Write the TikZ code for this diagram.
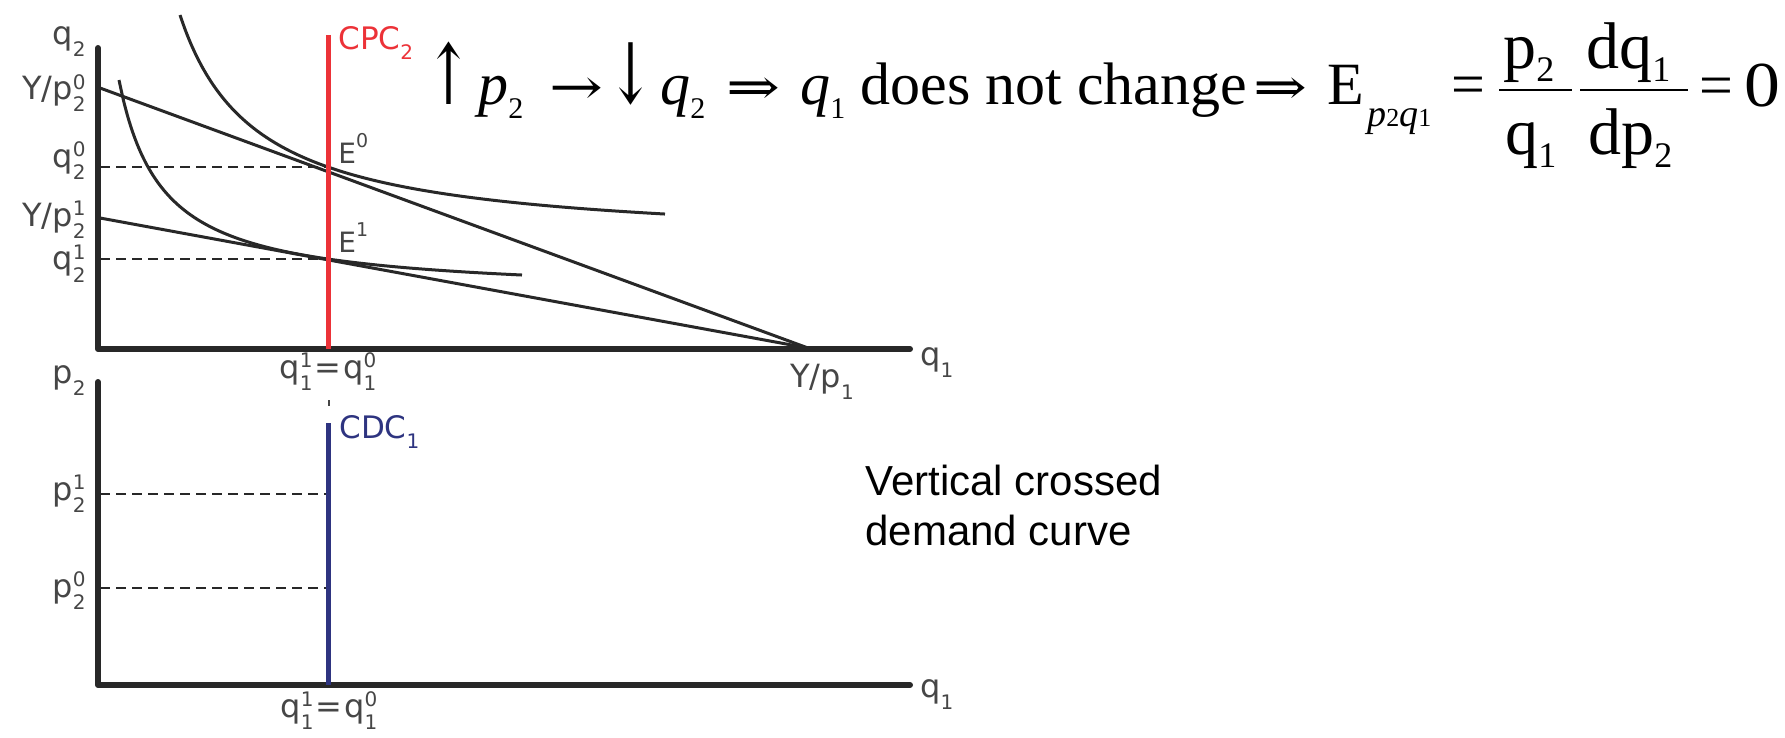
\documentclass[tikz,border=0pt]{standalone}
\usepackage{fontspec}
\usepackage{graphicx}
\newfontfamily\dv{DejaVu Sans}
\newfontfamily\dvs{DejaVu Serif}
\newfontfamily\ls{Liberation Sans}
\newfontfamily\tr{Liberation Serif}
\definecolor{cpcred}{RGB}{236,50,56}
\definecolor{cdcblue}{RGB}{46,52,128}
\definecolor{axisc}{RGB}{40,40,40}
\definecolor{labc}{RGB}{70,70,70}
\newcommand\lbl[3]{#1\rlap{\raisebox{5.5pt}{\fontsize{10}{10}\selectfont #2}}\raisebox{-6pt}{\fontsize{10}{10}\selectfont #3}}
\newcommand\isb[2]{\textit{#1}\raisebox{-6.5pt}{\fontsize{15}{15}\selectfont #2}}
\newcommand\fsb[2]{#1\raisebox{-6.5pt}{\fontsize{18}{18}\selectfont #2}}
\begin{document}
\begin{tikzpicture}[x=0.5pt,y=-0.5pt,
  axisline/.style={line width=3pt, draw=axisc, line cap=round, line join=round},
  curve/.style={line width=1.5pt, draw=axisc},
  guide/.style={line width=0.8pt, draw=axisc, dash pattern=on 5pt off 3pt},
  lab/.style={font=\dv\fontsize{16}{18}\selectfont, text=labc, inner sep=0pt},
  ft/.style={font=\tr\fontsize{30}{36}\selectfont, inner sep=0pt, anchor=base west},
  arr/.style={font=\dvs\fontsize{28}{34}\selectfont, inner sep=0pt, anchor=base west},
  fr/.style={font=\tr\fontsize{33}{38}\selectfont, inner sep=0pt, anchor=base west},
  fbar/.style={line width=1.4pt, draw=black}]
\useasboundingbox (0,0) rectangle (1785,738);

% ---------- upper panel ----------
\coordinate (Y1) at (98,48);
\coordinate (O1) at (98,349);
\coordinate (X1) at (910,349);
\draw[axisline] (Y1) -- (O1) -- (X1);

\coordinate (B0) at (100,88);
\coordinate (B1) at (100,218);
\coordinate (Yp1) at (808,348);
\draw[curve] (B0) -- (Yp1);
\draw[curve] (B1) -- (Yp1);

\draw[curve] plot[domain=180:665, samples=90, smooth] (\x, {245.3 - 175.46/((\x-103.8)/100)});
\draw[curve] plot[domain=119:522, samples=90, smooth] (\x, {295.8 - 92.66/((\x-76.06)/100)});

\coordinate (G0) at (100,167);
\coordinate (E0) at (328,167);
\coordinate (G1) at (100,259);
\coordinate (E1) at (328,259);
\draw[guide] (G0) -- (E0);
\draw[guide] (G1) -- (E1);

\coordinate (cpcT) at (328,35);
\coordinate (cpcB) at (328,349);
\draw[line width=2.5pt, cpcred] (cpcT) -- (cpcB);

\node[lab, anchor=base east] (lq2) at (86,45) {\lbl{q}{}{2}};
\node[lab, anchor=base east] (lY0) at (86,100) {Y/\lbl{p}{0}{2}};
\node[lab, anchor=base east] (lq20) at (86,168) {\lbl{q}{0}{2}};
\node[lab, anchor=base east] (lY1) at (86,227) {Y/\lbl{p}{1}{2}};
\node[lab, anchor=base east] (lq21) at (86,270) {\lbl{q}{1}{2}};
\node[lab, anchor=base west, text=cpcred, font=\dv\fontsize{15.5}{18}\selectfont] (lcpc) at (338,50) {CPC\raisebox{-5pt}{\fontsize{10}{10}\selectfont 2}};
\node[lab, anchor=base west, font=\dv\fontsize{14}{16}\selectfont] (lE0) at (338,163) {E\raisebox{8pt}{\fontsize{9.5}{10}\selectfont 0}};
\node[lab, anchor=base west, font=\dv\fontsize{14}{16}\selectfont] (lE1) at (338,252) {E\raisebox{8pt}{\fontsize{9.5}{10}\selectfont 1}};
\node[lab, anchor=base] (lqeq1) at (328,378) {\lbl{q}{1}{1}\hspace{1pt}=\hspace{1pt}\lbl{q}{0}{1}};
\node[lab, anchor=base west] (lYp1) at (790,387) {Y/\lbl{p}{}{1}};
\node[lab, anchor=base west] (lq1a) at (920,365) {\lbl{q}{}{1}};

% ---------- lower panel ----------
\coordinate (Y2) at (98,382);
\coordinate (O2) at (98,685);
\coordinate (X2) at (910,685);
\draw[axisline] (Y2) -- (O2) -- (X2);

\coordinate (tickT) at (329,400);
\coordinate (tickB) at (329,406);
\draw[line width=0.8pt, labc] (tickT) -- (tickB);

\coordinate (H1) at (100,494);
\coordinate (D1) at (328,494);
\coordinate (H0) at (100,588);
\coordinate (D0) at (328,588);
\draw[guide] (H1) -- (D1);
\draw[guide] (H0) -- (D0);

\coordinate (cdcT) at (328,423);
\coordinate (cdcB) at (328,685);
\draw[line width=2.5pt, cdcblue] (cdcT) -- (cdcB);

\node[lab, anchor=base east] (lp2) at (86,383) {\lbl{p}{}{2}};
\node[lab, anchor=base east] (lp21) at (86,500) {\lbl{p}{1}{2}};
\node[lab, anchor=base east] (lp20) at (86,597) {\lbl{p}{0}{2}};
\node[lab, anchor=base west, text=cdcblue, font=\dv\fontsize{15.5}{18}\selectfont] (lcdc) at (339,438) {CDC\raisebox{-5pt}{\fontsize{10}{10}\selectfont 1}};
\node[lab, anchor=base] (lqeq2) at (329,717) {\lbl{q}{1}{1}\hspace{1pt}=\hspace{1pt}\lbl{q}{0}{1}};
\node[lab, anchor=base west] (lq1b) at (920,697) {\lbl{q}{}{1}};

\node[anchor=base west, align=left, inner sep=0pt, font=\ls\fontsize{21}{25}\selectfont] (note) at (865,545) {Vertical crossed\\demand curve};

% ---------- formula ----------
\node[arr] (t1) at (425,105) {\scalebox{1}[1.5]{↑}};
\node[ft] (t2) at (478,105) {\isb{p}{2}};
\node[arr] (t3) at (549,105) {\scalebox{1.15}[0.9]{→}};
\node[arr] (t4) at (607,104) {\scalebox{1}[1.5]{↓}};
\node[ft] (t5) at (660,105) {\isb{q}{2}};
\node[arr] (t6) at (726,105) {\scalebox{1.15}[0.9]{⇒}};
\node[ft] (t7) at (800,105) {\isb{q}{1}};
\node[ft] (t8) at (860,105) {does not change};
\node[arr] (t9) at (1253,105) {\scalebox{1.15}[0.9]{⇒}};
\node[ft] (t10) at (1327,105) {E};
\node[ft, font=\tr\fontsize{19}{22}\selectfont] (t11) at (1367,127) {\textit{p}{\fontsize{13}{14}\selectfont 2}\textit{q}{\fontsize{13}{14}\selectfont 1}};
\node[ft] (t12) at (1451,105) {=};
\node[fr] (n1) at (1503,69) {\fsb{p}{2}};
\node[fr] (d1) at (1505,155) {\fsb{q}{1}};
\coordinate (f1a) at (1499,90);
\coordinate (f1b) at (1572,90);
\draw[fbar] (f1a) -- (f1b);
\node[fr] (n2) at (1586,69) {\fsb{dq}{1}};
\node[fr] (d2) at (1588,155) {\fsb{dp}{2}};
\coordinate (f2a) at (1580,90);
\coordinate (f2b) at (1688,90);
\draw[fbar] (f2a) -- (f2b);
\node[ft] (t13) at (1699,106) {=};
\node[ft, font=\tr\fontsize{32}{36}\selectfont] (t14) at (1744,107) {\scalebox{1.12}[1]{0}};
\end{tikzpicture}
\end{document}
